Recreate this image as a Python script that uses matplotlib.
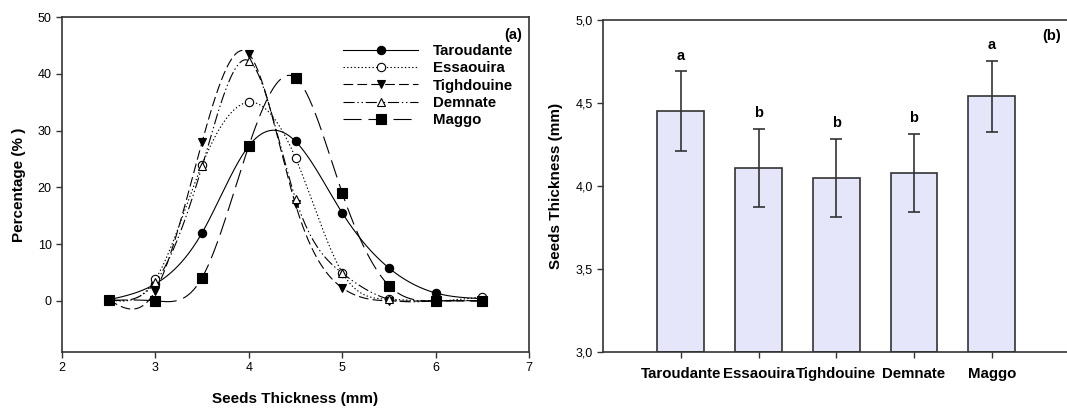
import numpy as np
import matplotlib
matplotlib.use("Agg")
import matplotlib.pyplot as plt
from matplotlib.ticker import FuncFormatter

plt.rcParams['font.family'] = ['Liberation Sans', 'DejaVu Sans']
plt.rcParams['lines.scale_dashes'] = False

# ---------------- data ----------------
thickness = [2.5, 3.0, 3.5, 4.0, 4.5, 5.0, 5.5, 6.0, 6.5]
taroudante = [0.2, 3.0, 12.0, 27.3, 28.1, 15.5, 5.8, 1.4, 0.4]
essaouira = [0.2, 3.8, 24.0, 35.0, 25.2, 5.0, 0.3, 0.0, 0.7]
tighdouine = [0.2, 1.8, 28.0, 43.5, 17.0, 2.3, 0.0, 0.0, 0.0]
demnate = [0.2, 3.3, 23.7, 42.3, 18.0, 4.9, 0.3, 0.0, 0.0]
maggo = [0.1, 0.0, 4.1, 27.3, 39.3, 19.0, 2.7, 0.0, 0.0]

regions = ["Taroudante", "Essaouira", "Tighdouine", "Demnate", "Maggo"]
mean_thickness = [4.45, 4.11, 4.05, 4.08, 4.54]
sd_thickness = [0.24, 0.235, 0.235, 0.235, 0.215]
letters = ["a", "b", "b", "b", "a"]


def natural_spline(x, y, xs):
    x = np.asarray(x, float)
    y = np.asarray(y, float)
    n = len(x)
    h = np.diff(x)
    A = np.zeros((n, n))
    r = np.zeros(n)
    A[0, 0] = 1.0
    A[-1, -1] = 1.0
    for i in range(1, n - 1):
        A[i, i - 1] = h[i - 1]
        A[i, i] = 2 * (h[i - 1] + h[i])
        A[i, i + 1] = h[i]
        r[i] = 6 * ((y[i + 1] - y[i]) / h[i] - (y[i] - y[i - 1]) / h[i - 1])
    M = np.linalg.solve(A, r)
    idx = np.clip(np.searchsorted(x, xs) - 1, 0, n - 2)
    x0, x1 = x[idx], x[idx + 1]
    hh = x1 - x0
    a = (x1 - xs) / hh
    b = (xs - x0) / hh
    return (a * y[idx] + b * y[idx + 1]
            + ((a ** 3 - a) * M[idx] + (b ** 3 - b) * M[idx + 1]) * hh ** 2 / 6)


W, H = 1067, 408
fig = plt.figure(figsize=(W / 100, H / 100), dpi=100)

spine_col = '#333333'

# ---------------- panel (a) ----------------
ax1 = fig.add_axes([62 / W, (H - 352) / H, (529 - 62) / W, (352 - 17) / H])
series = [
    ("Taroudante", taroudante, '-', 'o', 'black'),
    ("Essaouira", essaouira, (0, (1, 1.6)), 'o', 'white'),
    ("Tighdouine", tighdouine, (0, (7, 3)), 'v', 'black'),
    ("Demnate", demnate, (0, (8, 2, 1, 2, 1, 2)), '^', 'white'),
    ("Maggo", maggo, (0, (13, 5)), 's', 'black'),
]
xs = np.linspace(thickness[0], thickness[-1], 400)
for name, vals, ls, mk, fc in series:
    ys = natural_spline(thickness, vals, xs)
    ax1.plot(xs, ys, color='black', lw=0.8, linestyle=ls)
    ms = 6.5 if mk == 's' else 6
    ax1.plot(thickness, vals, linestyle='none', marker=mk, ms=ms,
             mfc=fc, mec='black', mew=0.8)
    ax1.plot([], [], color='black', lw=0.8, linestyle=ls, marker=mk, ms=ms,
             mfc=fc, mec='black', mew=0.8, label=name)

ax1.set_xlim(2, 7)
ax1.set_ylim(-9, 50)
ax1.set_xticks([2, 3, 4, 5, 6, 7])
ax1.set_yticks([0, 10, 20, 30, 40, 50])
ax1.tick_params(direction='out', length=4, width=1, labelsize=9, color=spine_col)
for s in ax1.spines.values():
    s.set_color(spine_col)
    s.set_linewidth(1.2)
ax1.set_xlabel("Seeds Thickness (mm)", fontsize=11, fontweight='bold', labelpad=13)
ax1.set_ylabel("Percentage (% )", fontsize=11, fontweight='bold', labelpad=8)
leg = ax1.legend(loc='upper left', bbox_to_anchor=((343 - 62) / 467, (352 - 44) / 335),
                 frameon=False, borderpad=0, borderaxespad=0, handlelength=5.0,
                 handletextpad=1.0, labelspacing=0.22,
                 prop={'weight': 'bold', 'size': 10.8})
ax1.text(0.985, 0.945, "(a)", transform=ax1.transAxes, ha='right', va='center',
         fontsize=10.5, fontweight='bold')

# ---------------- panel (b) ----------------
ax2 = fig.add_axes([603 / W, (H - 352) / H, (1069.5 - 603) / W, (352 - 20) / H])
pos = np.arange(len(regions))
ax2.bar(pos, np.array(mean_thickness) - 3.0, bottom=3.0, width=0.6,
        color='#E6E6FA', edgecolor=spine_col, linewidth=1.2, zorder=2)
ax2.errorbar(pos, mean_thickness, yerr=sd_thickness, fmt='none',
             ecolor=spine_col, elinewidth=1.2, capsize=4, capthick=1.2, zorder=3)
for p, m, s, l in zip(pos, mean_thickness, sd_thickness, letters):
    ax2.annotate(l, (p, m + s), xytext=(0, 6), textcoords='offset points',
                 ha='center', va='bottom', fontsize=10.5, fontweight='bold')
ax2.set_xlim(-1, 5)
ax2.set_ylim(3.0, 5.0)
ax2.set_xticks(pos)
ax2.set_xticklabels(regions, fontweight='bold', fontsize=10.8)
ax2.set_yticks([3.0, 3.5, 4.0, 4.5, 5.0])
ax2.yaxis.set_major_formatter(FuncFormatter(lambda v, p: f"{v:.1f}".replace('.', ',')))
ax2.tick_params(direction='out', length=4, width=1, color=spine_col)
ax2.tick_params(axis='y', labelsize=9)
ax2.tick_params(axis='x', pad=7)
for s in ax2.spines.values():
    s.set_color(spine_col)
    s.set_linewidth(1.2)
ax2.set_ylabel("Seeds Thickness (mm)", fontsize=11, fontweight='bold', labelpad=9)
ax2.text((1052 - 603) / (1069.5 - 603), (352 - 36) / 332, "(b)", transform=ax2.transAxes,
         ha='center', va='center', fontsize=10.5, fontweight='bold')

fig.savefig("out.png", dpi=100)
